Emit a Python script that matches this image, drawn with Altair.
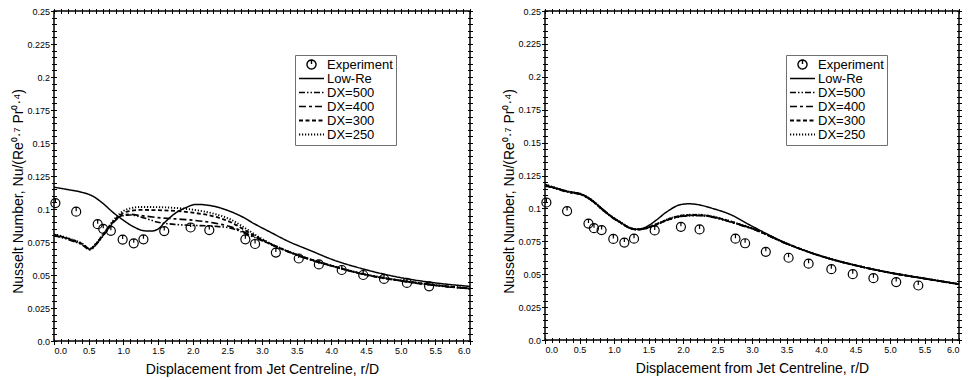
import altair as alt
import pandas as pd

FONT = "Liberation Sans"

# ---------------- data ----------------
exp_r = [0.02, 0.32, 0.63, 0.71, 0.82, 0.99, 1.15, 1.29, 1.59, 1.97, 2.24,
         2.76, 2.90, 3.20, 3.53, 3.82, 4.15, 4.46, 4.76, 5.09, 5.41]
exp_v = [0.1045, 0.098, 0.0885, 0.085, 0.0835, 0.0768, 0.074, 0.077, 0.0833, 0.086, 0.084,
         0.077, 0.0735, 0.067, 0.0625, 0.058, 0.0538, 0.050, 0.047, 0.044, 0.0414]

# left panel
L_low_r = [0, 0.2, 0.4, 0.55, 0.7, 0.85, 1.0, 1.15, 1.3, 1.4, 1.5, 1.6, 1.75, 1.9, 2.05,
           2.2, 2.35, 2.5, 2.7, 2.9, 3.1, 3.4, 3.7, 4.0, 4.5, 5.0, 5.5, 6.0]
L_low_v = [0.1165, 0.1147, 0.1127, 0.1100, 0.1045, 0.0975, 0.0915, 0.0865, 0.0835, 0.0833,
           0.0848, 0.0900, 0.0968, 0.1010, 0.1035, 0.1030, 0.1015, 0.0990, 0.0945, 0.0885,
           0.0830, 0.0750, 0.0685, 0.0620, 0.0540, 0.0480, 0.0440, 0.0414]

L_dx_r = [0, 0.1, 0.25, 0.4, 0.52, 0.6, 0.7, 0.8, 0.9, 1.0, 1.1, 1.25, 1.5, 1.75, 2.0,
          2.3, 2.55, 2.8, 3.0, 3.5, 4.0, 4.5, 5.0, 5.5, 6.0]
L_dx500_v = [0.0795, 0.0785, 0.0760, 0.0730, 0.0690, 0.0725, 0.0790, 0.0860, 0.0920, 0.0950,
             0.0955, 0.0940, 0.0900, 0.0883, 0.0876, 0.0870, 0.0855, 0.0805, 0.0760, 0.0650,
             0.0568, 0.0500, 0.0455, 0.0420, 0.0395]
L_dx400_v = [0.0800, 0.0790, 0.0765, 0.0735, 0.0695, 0.0730, 0.0795, 0.0865, 0.0925, 0.0955,
             0.0960, 0.0950, 0.0935, 0.0925, 0.0915, 0.0895, 0.0865, 0.0812, 0.0763, 0.0652,
             0.0570, 0.0502, 0.0457, 0.0422, 0.0397]
L_dx300_v = [0.0805, 0.0793, 0.0768, 0.0738, 0.0698, 0.0733, 0.0800, 0.0870, 0.0930, 0.0970,
             0.0985, 0.0993, 0.0991, 0.0985, 0.0972, 0.0945, 0.0900, 0.0825, 0.0768, 0.0654,
             0.0571, 0.0503, 0.0458, 0.0423, 0.0398]
L_dx250_v = [0.0808, 0.0796, 0.0770, 0.0740, 0.0700, 0.0735, 0.0803, 0.0875, 0.0940, 0.0985,
             0.1005, 0.1015, 0.1014, 0.1008, 0.0995, 0.0965, 0.0920, 0.0840, 0.0773, 0.0655,
             0.0572, 0.0504, 0.0459, 0.0424, 0.0399]

# right panel
R_low_r = [0, 0.17, 0.36, 0.51, 0.65, 0.8, 0.94, 1.09, 1.23, 1.33, 1.47, 1.61, 1.76, 1.96,
           2.08, 2.2, 2.44, 2.68, 3.0, 3.5, 4.0, 4.5, 5.0, 5.5, 6.0]
R_low_v = [0.1170, 0.1152, 0.1125, 0.1112, 0.1074, 0.1010, 0.0948, 0.0896, 0.0852, 0.0842,
           0.0860, 0.0910, 0.0972, 0.1028, 0.1035, 0.1030, 0.0998, 0.0955, 0.0865, 0.0735,
           0.0638, 0.0568, 0.0512, 0.0468, 0.0425]

R_dx_r = [0, 0.17, 0.36, 0.51, 0.65, 0.8, 0.94, 1.09, 1.23, 1.33, 1.45, 1.6, 1.8, 2.0, 2.2,
          2.4, 2.6, 2.8, 3.0, 3.5, 4.0, 4.5, 5.0, 5.5, 6.0]
R_dx500_v = [0.1175, 0.1148, 0.1120, 0.1106, 0.1068, 0.1003, 0.0943, 0.0891, 0.0849, 0.0838,
             0.0845, 0.0872, 0.0915, 0.0940, 0.0945, 0.0936, 0.0910, 0.0878, 0.0845, 0.0731,
             0.0636, 0.0566, 0.0510, 0.0466, 0.0423]
R_dx400_v = [0.1178, 0.1150, 0.1122, 0.1108, 0.1070, 0.1005, 0.0945, 0.0893, 0.0850, 0.0839,
             0.0846, 0.0874, 0.0918, 0.0943, 0.0948, 0.0938, 0.0912, 0.0880, 0.0847, 0.0732,
             0.0637, 0.0567, 0.0511, 0.0467, 0.0424]
R_dx300_v = [0.1180, 0.1152, 0.1124, 0.1110, 0.1072, 0.1007, 0.0947, 0.0895, 0.0852, 0.0840,
             0.0848, 0.0876, 0.0920, 0.0946, 0.0950, 0.0940, 0.0914, 0.0882, 0.0848, 0.0733,
             0.0638, 0.0567, 0.0511, 0.0467, 0.0424]
R_dx250_v = [0.1182, 0.1154, 0.1126, 0.1112, 0.1074, 0.1009, 0.0949, 0.0897, 0.0853, 0.0841,
             0.0849, 0.0878, 0.0922, 0.0948, 0.0953, 0.0943, 0.0916, 0.0884, 0.0850, 0.0734,
             0.0639, 0.0568, 0.0512, 0.0468, 0.0425]

SERIES = ["Experiment", "Low-Re", "DX=500", "DX=400", "DX=300", "DX=250"]
DASHES = [[1, 0], [1, 0], [6, 2, 1.5, 2, 1.5, 2], [7, 3, 3, 3], [4, 2.5], [1.2, 1.8]]
WIDTHS = [1.4, 1.9, 1.7, 1.7, 1.7, 1.6]
# open circle with a short tick at its top; the trailing moves give it the
# same horizontal extent as the line symbols so the legend labels align
EXP_PATH = ("M-0.36,0A0.36,0.36 0 1,0 0.36,0A0.36,0.36 0 1,0 -0.36,0Z"
            "M0,-0.36L0,-0.04M-1,0M1,0")
SHAPES = [EXP_PATH] + ["stroke"] * 5

x_major = [round(i * 0.5, 1) for i in range(13)]
x_minor = [round(i * 0.1, 1) for i in range(61)]
y_major = [round(i * 0.025, 3) for i in range(11)]
y_minor = [round(i * 0.005, 3) for i in range(51)]

Y_TITLE = "Nusselt Number, Nu/(Re\u2070\u00b7\u2077 Pr\u2070\u00b7\u2074)"
X_TITLE = "Displacement from Jet Centreline, r/D"


def lines_frame(groups):
    rows = []
    for name, rs, vs in groups:
        for r, v in zip(rs, vs):
            rows.append({"series": name, "r": r, "v": v})
    return pd.DataFrame(rows)


exp_df = pd.DataFrame({"series": "Experiment", "r": exp_r, "v": exp_v})

left_df = lines_frame([
    ("Low-Re", L_low_r, L_low_v),
    ("DX=500", L_dx_r, L_dx500_v),
    ("DX=400", L_dx_r, L_dx400_v),
    ("DX=300", L_dx_r, L_dx300_v),
    ("DX=250", L_dx_r, L_dx250_v),
])
right_df = lines_frame([
    ("Low-Re", R_low_r, R_low_v),
    ("DX=500", R_dx_r, R_dx500_v),
    ("DX=400", R_dx_r, R_dx400_v),
    ("DX=300", R_dx_r, R_dx300_v),
    ("DX=250", R_dx_r, R_dx250_v),
])


def make_legend():
    return alt.Legend(
        title=None, orient="none", legendX=241, legendY=44,
        symbolSize=625, clipHeight=13, rowPadding=0, padding=3,
        strokeColor="#707070", fillColor="white", cornerRadius=0,
        labelFont=FONT, labelFontSize=13, labelColor="black", labelOffset=2,
        symbolStrokeWidth=1.6, symbolStrokeColor="black", symbolOpacity=1,
        symbolFillColor="transparent",
    )


def panel(df, w, h):
    xs = alt.Scale(domain=[0, 6], nice=False, zero=False)
    ys = alt.Scale(domain=[0, 0.25], nice=False)
    lines = alt.Chart(df).mark_line(interpolate="monotone", color="black", clip=True).encode(
        x=alt.X("r:Q", scale=xs, axis=alt.Axis(
            orient="bottom", values=x_major, format=".1f", tickSize=3.5, labelPadding=2,
            domain=False, title=X_TITLE, titlePadding=7)),
        y=alt.Y("v:Q", scale=ys, axis=alt.Axis(
            orient="left", values=y_major,
            labelExpr="datum.value == 0 ? '0.0' : format(datum.value, '.3~f')",
            tickSize=3.5, labelPadding=1, domain=False, title=Y_TITLE,
            titleX=-29, titleY=180)),
        strokeDash=alt.StrokeDash("series:N", scale=alt.Scale(domain=SERIES, range=DASHES),
                                  legend=make_legend()),
        strokeWidth=alt.StrokeWidth("series:N", scale=alt.Scale(domain=SERIES, range=WIDTHS),
                                    legend=None),
    )
    pts = alt.Chart(exp_df).mark_point(filled=False, color="black", strokeWidth=1.2,
                                       size=625, opacity=1, clip=False).encode(
        x=alt.X("r:Q", scale=xs, axis=alt.Axis(
            orient="bottom", values=x_minor, labels=False, tickSize=5, offset=-2.5,
            domain=False, title=None)),
        y=alt.Y("v:Q", scale=ys, axis=alt.Axis(
            orient="left", values=y_minor, labels=False, tickSize=5, offset=-2.5,
            domain=False, title=None)),
        shape=alt.Shape("series:N", scale=alt.Scale(domain=SERIES, range=SHAPES),
                        legend=make_legend()),
    )
    frame = alt.Chart(exp_df).mark_point(opacity=0).encode(
        x=alt.X("r:Q", scale=xs, axis=alt.Axis(
            orient="top", values=x_minor, labels=False, tickSize=5, offset=-2.5,
            domain=False, title=None)),
        y=alt.Y("v:Q", scale=ys, axis=alt.Axis(
            orient="right", values=y_minor, labels=False, tickSize=5, offset=-2.5,
            domain=False, title=None)),
    )
    return alt.layer(lines, pts, frame).resolve_axis(
        x="independent", y="independent").properties(width=w, height=h)


chart = alt.hconcat(
    panel(left_df, 416, 330), panel(right_df, 414, 329), spacing=27
).resolve_scale(
    strokeDash="independent", shape="independent", strokeWidth="independent"
).resolve_legend(
    strokeDash="independent", shape="independent"
).properties(
    padding={"left": 10, "top": 6, "right": 3, "bottom": 0}
).configure_view(stroke="black", strokeWidth=1.5).configure_axis(
    grid=False, labelFont=FONT, labelFontSize=9, labelColor="black",
    titleFont=FONT, titleFontSize=14, titleFontWeight="normal", titleColor="black",
    tickColor="black", tickWidth=1,
).configure_legend(strokeColor="#707070", strokeWidth=1, cornerRadius=0)

chart.save("out.html", embed_options={"renderer": "svg", "actions": False})
